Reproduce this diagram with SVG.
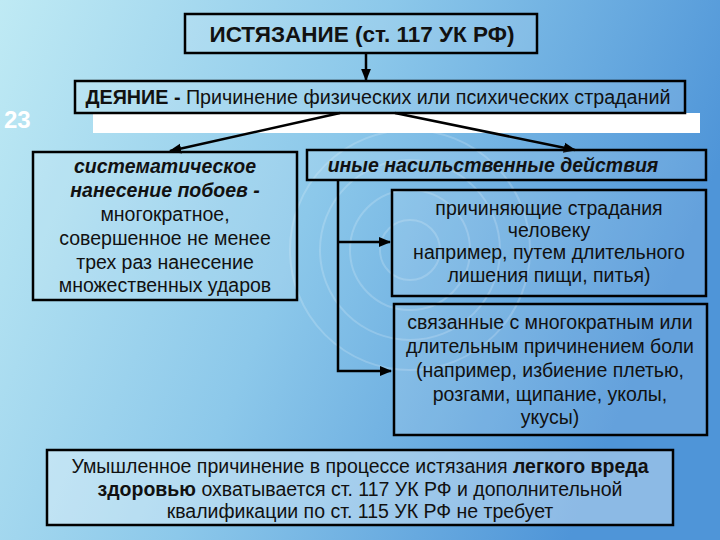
<svg xmlns="http://www.w3.org/2000/svg" width="720" height="540" viewBox="0 0 720 540">
<defs>
<linearGradient id="bg" x1="0" y1="0" x2="1" y2="0.3">
<stop offset="0" stop-color="#bfeaf4"/><stop offset="0.5" stop-color="#8cc8ea"/><stop offset="1" stop-color="#4f95d8"/>
</linearGradient>
<marker id="ah" viewBox="0 0 10 10" refX="9" refY="5" markerWidth="5" markerHeight="5" orient="auto"><path d="M0,1 L10,5 L0,9 z" fill="#000"/></marker>
<style>
.box{fill:#ffffff;fill-opacity:0.12;stroke:#000;stroke-width:2.5}
.t{font-family:"Liberation Sans",Arial,sans-serif;font-size:19.5px;fill:#111;text-anchor:middle}
.b{font-weight:bold}.bi{font-weight:bold;font-style:italic}
.c{stroke:#000;stroke-width:2.5;fill:none}
</style>
</defs>
<rect width="720" height="540" fill="url(#bg)"/>
<g fill="none" stroke="#ffffff" stroke-opacity="0.18" stroke-width="2">
<circle cx="410" cy="250" r="30"/><circle cx="410" cy="250" r="60"/><circle cx="410" cy="250" r="90"/><circle cx="410" cy="250" r="120"/>
</g>
<rect x="93" y="113" width="607" height="20" fill="#fff"/>
<text x="4" y="128" font-family="Liberation Sans,Arial,sans-serif" font-size="24" font-weight="bold" fill="#fff">23</text>
<g id="connectors">
<line class="c" x1="366" y1="53" x2="366" y2="80" marker-end="url(#ah)"/>
<line class="c" x1="340" y1="113" x2="170" y2="151" marker-end="url(#ah)"/>
<line class="c" x1="395" y1="113" x2="575" y2="150" marker-end="url(#ah)"/>
<polyline class="c" points="338,181 338,371 391,371" marker-end="url(#ah)"/>
<line class="c" x1="338" y1="242" x2="390" y2="242" marker-end="url(#ah)"/>
</g>
<g id="n1"><rect class="box" x="185" y="14" width="352" height="39"/><text class="t b" x="362" y="42" style="font-size:22.5px">ИСТЯЗАНИЕ (ст. 117 УК РФ)</text></g>
<g id="n2"><rect class="box" x="75" y="81" width="610" height="32"/><text class="t" x="378" y="104" textLength="585" lengthAdjust="spacingAndGlyphs"><tspan class="b">ДЕЯНИЕ - </tspan>Причинение физических или психических страданий</text></g>
<g id="n3"><rect class="box" x="33" y="152" width="264" height="148"/>
<text class="t bi" x="165" y="173">систематическое</text><text class="t bi" x="165" y="197">нанесение побоев -</text>
<text class="t" x="165" y="221">многократное,</text><text class="t" x="165" y="245">совершенное не менее</text><text class="t" x="165" y="269">трех раз нанесение</text><text class="t" x="165" y="292">множественных ударов</text></g>
<g id="n4"><rect class="box" x="307" y="150" width="399" height="30"/><text class="t bi" x="493" y="172">иные насильственные действия</text></g>
<g id="n5"><rect class="box" x="392" y="190" width="314" height="106"/>
<text class="t" x="549" y="215">причиняющие страдания</text><text class="t" x="549" y="237">человеку</text><text class="t" x="549" y="259">например, путем длительного</text><text class="t" x="549" y="282">лишения пищи, питья)</text></g>
<g id="n6"><rect class="box" x="394" y="304" width="313" height="131"/>
<text class="t" x="550" y="329">связанные с многократным или</text><text class="t" x="550" y="353">длительным причинением боли</text><text class="t" x="550" y="377">(например, избиение плетью,</text><text class="t" x="550" y="401">розгами, щипание, уколы,</text><text class="t" x="550" y="424">укусы)</text></g>
<g id="n7"><rect class="box" x="47" y="450" width="626" height="75" style="fill-opacity:0.35"/>
<text class="t" x="360" y="473">Умышленное причинение в процессе истязания <tspan class="b">легкого вреда</tspan></text>
<text class="t" x="360" y="496"><tspan class="b">здоровью</tspan> охватывается ст. 117 УК РФ и дополнительной</text>
<text class="t" x="360" y="518">квалификации по ст. 115 УК РФ не требует</text></g>
</svg>
